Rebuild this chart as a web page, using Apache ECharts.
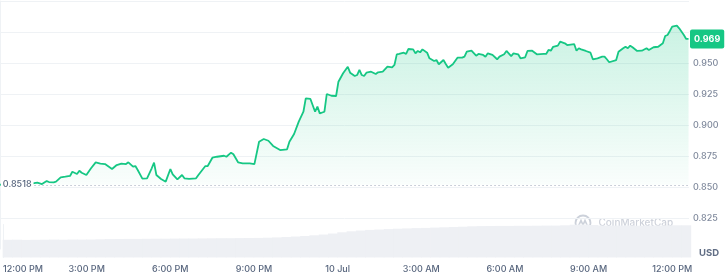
<!DOCTYPE html>
<html><head><meta charset="utf-8">
<script src="https://cdn.jsdelivr.net/npm/echarts@6/dist/echarts.min.js"></script>
<style>html,body{margin:0;padding:0;background:#fff}#c{width:727px;height:280px}</style>
</head><body><div id="c"></div>
<script>
// Minutes since 12:00 PM (9 Jul)
const times = [
  0,20,45,70,80,90,100,105,115,120,
  130,140,150,155,165,170,175,185,195,205,
  215,225,240,250,260,270,275,285,290,295,
  305,315,325,330,335,345,355,365,370,380,
  390,395,405,420,425,440,445,455,465,480,
  485,495,500,510,520,535,545,555,565,575,
  585,600,615,620,630,640,650,655,665,675,
  680,685,695,700,710,720,725,735,745,750,
  760,765,770,775,780,785,795,805,810,820,
  830,840,845,850,855,865,870,875,885,890,
  895,900,905,915,920,930,935,940,950,955,
  960,970,980,990,995,1000,1010,1020,1025,1035,
  1040,1045,1055,1065,1070,1080,1085,1095,1100,1110,
  1115,1125,1130,1140,1150,1165,1170,1175,1180,1185,
  1195,1200,1210,1215,1230,1235,1240,1245,1255,1265,
  1270,1280,1290,1295,1300,1305,1320,1325,1335,1340,
  1345,1350,1355,1365,1375,1385,1390,1400,1410,1420,
  1425,1430,1435,1440,1450,1455,1465,1470,1475
];
// Price (USD)
const prices = [
  0.8518,0.8524,0.8528,0.8530,0.8535,0.8524,0.8548,0.8540,0.8538,0.8543,
  0.8578,0.8583,0.8589,0.8623,0.8605,0.8631,0.8615,0.8597,0.8651,0.8699,
  0.8688,0.8685,0.8645,0.8677,0.8688,0.8685,0.8699,0.8664,0.8669,0.8637,
  0.8567,0.8570,0.8651,0.8696,0.8597,0.8565,0.8543,0.8645,0.8602,0.8562,
  0.8597,0.8570,0.8565,0.8570,0.8597,0.8669,0.8669,0.8736,0.8744,0.8752,
  0.8744,0.8777,0.8764,0.8699,0.8691,0.8690,0.8685,0.8865,0.8887,0.8873,
  0.8831,0.8798,0.8804,0.8865,0.8927,0.9027,0.9107,0.9215,0.9210,0.9107,
  0.9148,0.9094,0.9107,0.9250,0.9236,0.9234,0.9349,0.9417,0.9470,0.9422,
  0.9395,0.9403,0.9444,0.9403,0.9395,0.9422,0.9430,0.9411,0.9425,0.9430,
  0.9470,0.9465,0.9484,0.9570,0.9573,0.9583,0.9573,0.9613,0.9610,0.9578,
  0.9597,0.9586,0.9610,0.9583,0.9538,0.9516,0.9524,0.9490,0.9524,0.9492,
  0.9462,0.9490,0.9543,0.9543,0.9551,0.9591,0.9599,0.9559,0.9573,0.9565,
  0.9551,0.9578,0.9565,0.9530,0.9551,0.9570,0.9597,0.9556,0.9578,0.9570,
  0.9538,0.9546,0.9597,0.9599,0.9570,0.9573,0.9573,0.9605,0.9599,0.9631,
  0.9640,0.9672,0.9659,0.9645,0.9653,0.9599,0.9619,0.9610,0.9597,0.9583,
  0.9530,0.9538,0.9551,0.9552,0.9530,0.9506,0.9524,0.9591,0.9619,0.9631,
  0.9619,0.9640,0.9627,0.9597,0.9599,0.9619,0.9605,0.9627,0.9631,0.9659,
  0.9718,0.9726,0.9758,0.9793,0.9801,0.9780,0.9726,0.9694,0.9694
];
// Volume (estimated, millions USD), one bar every 20 minutes starting at minute 10
const volume = [
  1.77,1.78,1.76,1.77,1.78,1.79,1.78,1.80,1.79,1.80,1.82,
  1.84,1.85,1.86,1.86,1.87,1.88,1.88,1.89,1.90,1.90,1.91,1.92,1.93,
  1.93,1.94,1.95,1.96,1.98,2.01,2.05,
  2.10,2.15,2.22,2.30,2.40,2.52,2.62,2.70,2.76,2.80,2.84,2.88,2.91,2.94,2.96,2.99,
  3.02,3.05,3.08,3.12,3.14,3.15,3.16,3.16,3.17,3.17,3.18,3.19,3.19,3.22,3.28,3.30,
  3.25,3.20,3.19,3.19,3.20,3.18,3.19,3.20,3.21,3.22,3.22
];
const volumeStart = 10, volumeStep = 20;
const xTickLabels = ['12:00 PM','3:00 PM','6:00 PM','9:00 PM','10 Jul','3:00 AM','6:00 AM','9:00 AM','12:00 PM'];
const xMax = 1476;

const FONT = 'Inter, "Noto Sans", sans-serif';
const openPrice = prices[0];
const lastPrice = prices[prices.length - 1];
const GREEN = '#16c784';

const chart = echarts.init(document.getElementById('c'), null, {renderer: 'canvas'});
chart.setOption({
  animation: false,
  grid: [
    {left: 0, right: 38, top: 1, height: 248},
    {left: 0, right: 38, top: 224.5, height: 33}
  ],
  xAxis: [
    {type: 'value', gridIndex: 0, min: 0, max: xMax, interval: 180, show: false},
    {type: 'value', gridIndex: 1, min: 0, max: xMax, interval: 180,
     axisLine: {show: false}, axisTick: {show: false}, splitLine: {show: false},
     axisLabel: {show: true, margin: 7, fontSize: 9, fontFamily: FONT, fontWeight: 500, color: '#58667e',
       showMaxLabel: false, alignMinLabel: 'left',
       formatter: v => (v % 180 === 0 ? xTickLabels[v / 180] : '')}}
  ],
  yAxis: [
    {type: 'value', gridIndex: 0, position: 'right', min: 0.8, max: 1.0, interval: 0.025,
     axisLine: {show: true, lineStyle: {color: '#eff2f5'}}, axisTick: {show: false},
     splitLine: {show: true, showMinLine: false, lineStyle: {color: '#eff2f5'}},
     axisLabel: {margin: 4, fontSize: 9, fontFamily: FONT, fontWeight: 500, color: '#808a9d',
       showMinLabel: false, formatter: v => (v > 0.96 ? '' : v.toFixed(3))}},
    {type: 'value', gridIndex: 1, position: 'right', min: 0, max: 3.3,
     axisLine: {show: true, lineStyle: {color: '#eff2f5'}}, axisLabel: {show: false},
     axisTick: {show: false}, splitLine: {show: false}}
  ],
  series: [
    {type: 'bar', xAxisIndex: 1, yAxisIndex: 1, silent: true, z: 1,
     data: volume.map((v, i) => [volumeStart + i * volumeStep, v]),
     barWidth: 10, itemStyle: {color: '#eef0f4'}},
    {type: 'line', xAxisIndex: 0, yAxisIndex: 0, z: 3,
     data: times.map((t, i) => [t, prices[i]]),
     showSymbol: false, symbol: 'none',
     lineStyle: {color: GREEN, width: 1.8},
     areaStyle: {origin: openPrice,
       color: new echarts.graphic.LinearGradient(0, 0, 0, 1, [
         {offset: 0, color: 'rgba(22,199,132,0.32)'},
         {offset: 1, color: 'rgba(22,199,132,0.03)'}])},
     markLine: {silent: true, symbol: ['none', 'none'], animation: false,
       data: [
         [{coord: [74, openPrice],
           lineStyle: {color: '#9aa3b5', type: [1, 3], width: 1},
           label: {show: true, position: 'start', distance: 1, formatter: openPrice.toFixed(4),
             fontSize: 9, fontFamily: FONT, fontWeight: 500, color: '#58667e',
             backgroundColor: '#fff', padding: [2, 2]}},
          {coord: [xMax, openPrice]}]
       ]}},
    {type: 'line', xAxisIndex: 0, yAxisIndex: 0, z: 5, silent: true,
     data: [],
     markLine: {silent: true, symbol: ['none', 'none'], animation: false,
       lineStyle: {color: 'rgba(0,0,0,0)', width: 1, type: 'solid'},
       label: {show: true, position: 'end', distance: 1, formatter: lastPrice.toFixed(3),
         fontSize: 9, fontFamily: FONT, fontWeight: 'bold', color: '#fff',
         backgroundColor: GREEN, padding: [5, 4], borderRadius: 2},
       data: [[{coord: [times[times.length - 1], lastPrice]}, {coord: [xMax, lastPrice]}]]}}
  ],
  graphic: [
    {type: 'text', right: 8, top: 248, z: 100, style: {text: 'USD', font: 'bold 9.5px Inter', fill: '#616e85'}},
    {type: 'group', left: 573, top: 213, z: 100, silent: true, children: [
      {type: 'circle', shape: {cx: 8.5, cy: 8.5, r: 7.5}, style: {fill: 'none', stroke: '#ccd1da', lineWidth: 1.8}},
      {type: 'polyline', shape: {points: [[4, 11.5], [6.5, 6], [8.5, 10.5], [10.5, 6], [13, 11.5]]},
       style: {stroke: '#ccd1da', fill: 'none', lineWidth: 1.6}},
      {type: 'text', x: 24, y: 3, style: {text: 'CoinMarketCap', font: '500 10px Inter', fill: '#cdd1da'}}
    ]}
  ]
});
</script>
</body></html>
